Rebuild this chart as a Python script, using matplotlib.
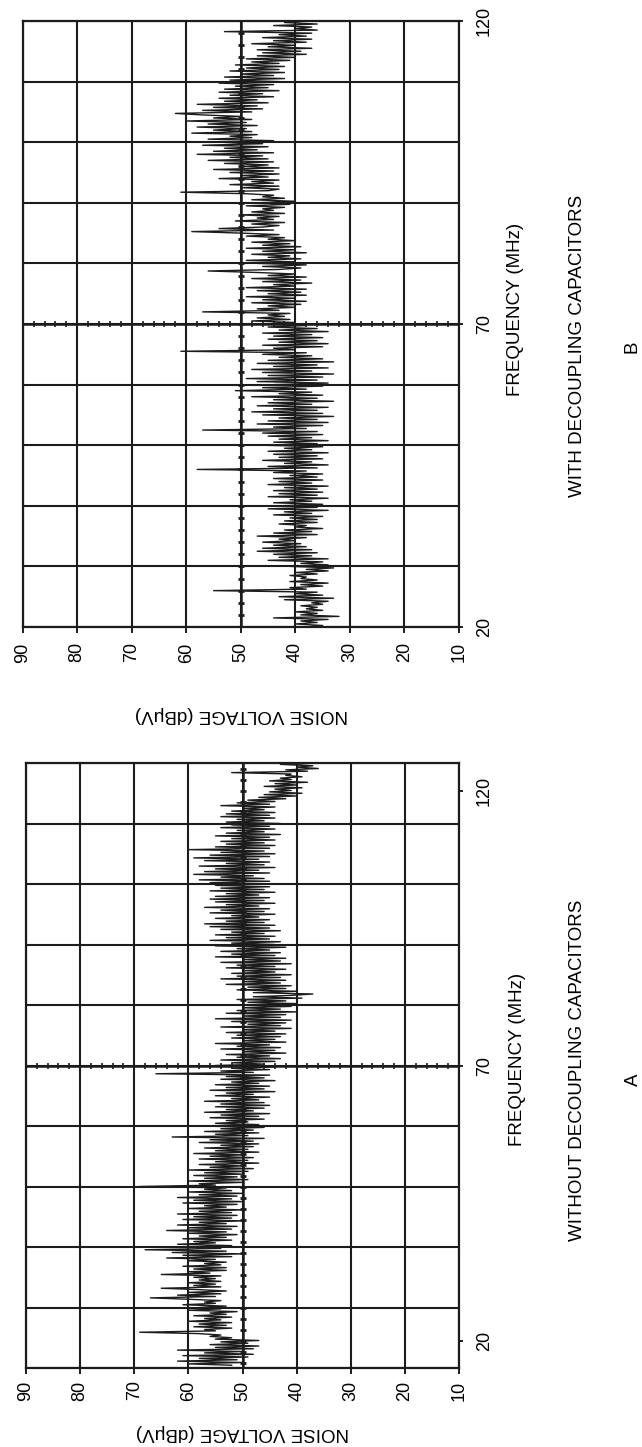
import numpy as np
import matplotlib
matplotlib.use("Agg")
import matplotlib.pyplot as plt

plt.rcParams['font.family'] = ['Liberation Sans', 'DejaVu Sans']

# noise voltage (dBuV) read every 0.25 MHz
freq_step = 0.25

# panel B: with decoupling capacitors, from 20 MHz
freq_b_start = 20.0
volt_b = [
    38, 35, 40, 36, 39, 34, 44, 32, 39, 36,
    40, 35, 38, 36, 39, 35, 37, 34, 42, 33,
    43, 35, 40, 36, 55, 38, 41, 35, 39, 34,
    41, 36, 39, 38, 41, 36, 40, 34, 38, 33,
    41, 34, 39, 35, 45, 34, 43, 37, 44, 36,
    47, 37, 46, 38, 44, 39, 46, 40, 43, 38,
    47, 36, 44, 37, 42, 35, 40, 38, 43, 36,
    42, 36, 41, 35, 44, 37, 42, 34, 45, 36,
    43, 35, 44, 37, 41, 34, 45, 36, 43, 35,
    44, 36, 42, 34, 45, 37, 43, 35, 44, 36,
    41, 35, 44, 38, 58, 36, 45, 34, 42, 37,
    46, 35, 43, 36, 44, 34, 45, 37, 42, 35,
    46, 36, 44, 34, 43, 37, 45, 35, 46, 36,
    57, 38, 44, 35, 47, 34, 45, 36, 43, 33,
    46, 35, 48, 36, 44, 34, 47, 37, 45, 33,
    44, 36, 48, 35, 43, 37, 51, 38, 46, 35,
    44, 34, 47, 36, 49, 35, 45, 33, 46, 37,
    48, 34, 44, 36, 47, 33, 45, 35, 43, 37,
    46, 38, 61, 40, 44, 35, 46, 34, 43, 36,
    45, 35, 44, 37, 46, 34, 43, 36, 45, 38,
    46, 40, 48, 41, 47, 42, 45, 41, 57, 43,
    47, 40, 45, 39, 48, 38, 46, 40, 49, 38,
    45, 39, 47, 38, 49, 40, 44, 37, 46, 39,
    48, 38, 45, 40, 47, 56, 43, 39, 46, 38,
    47, 40, 49, 39, 45, 41, 48, 38, 46, 40,
    49, 39, 46, 41, 48, 40, 45, 42, 49, 43,
    50, 59, 44, 54, 46, 43, 48, 42, 51, 44,
    47, 43, 50, 42, 48, 44, 46, 42, 49, 41,
    47, 40, 48, 42, 46, 44, 49, 61, 45, 43,
    50, 43, 52, 44, 48, 43, 54, 45, 50, 43,
    52, 44, 55, 43, 50, 45, 53, 44, 56, 45,
    52, 46, 58, 44, 55, 47, 53, 45, 57, 46,
    54, 44, 56, 48, 52, 47, 59, 48, 55, 49,
    58, 47, 56, 49, 60, 48, 55, 50, 57, 62,
    48, 57, 46, 55, 47, 58, 45, 53, 47, 54,
    44, 52, 46, 54, 43, 53, 45, 51, 44, 54,
    43, 52, 42, 53, 44, 50, 42, 52, 43, 49,
    42, 51, 43, 48, 41, 49, 40, 47, 38, 46,
    39, 47, 37, 45, 40, 48, 38, 44, 37, 46,
    38, 43, 37, 53, 36, 40, 37, 44, 36, 42,
    38,
]

# panel A: without decoupling capacitors, from 15.5 MHz
freq_a_start = 15.5
volt_a = [
    52, 60, 50, 62, 51, 58, 49, 61, 48, 57,
    50, 62, 48, 55, 47, 56, 49, 54, 47, 55,
    52, 56, 54, 58, 69, 55, 57, 52, 59, 53,
    58, 52, 60, 54, 57, 52, 59, 53, 56, 51,
    60, 54, 58, 53, 61, 55, 57, 54, 60, 67,
    55, 62, 54, 60, 53, 58, 65, 54, 59, 55,
    60, 54, 58, 55, 59, 54, 65, 56, 60, 53,
    59, 53, 61, 54, 57, 53, 60, 55, 64, 52,
    61, 50, 63, 53, 68, 54, 60, 52, 62, 55,
    59, 52, 61, 53, 58, 51, 60, 53, 64, 52,
    60, 51, 62, 53, 58, 50, 61, 52, 59, 51,
    62, 52, 58, 50, 60, 53, 57, 51, 61, 50,
    59, 52, 62, 51, 58, 50, 60, 52, 57, 53,
    69, 55, 58, 50, 60, 49, 57, 51, 59, 50,
    57, 49, 60, 48, 56, 50, 58, 47, 55, 49,
    58, 48, 56, 50, 59, 47, 55, 49, 57, 48,
    54, 47, 58, 48, 56, 46, 63, 49, 55, 47,
    57, 48, 54, 46, 58, 47, 55, 49, 53, 46,
    56, 47, 54, 45, 57, 48, 53, 46, 55, 45,
    54, 46, 57, 47, 52, 45, 55, 48, 53, 44,
    56, 46, 53, 45, 55, 47, 52, 44, 54, 46,
    53, 45, 66, 48, 54, 45, 52, 44, 55, 46,
    52, 44, 54, 43, 51, 45, 53, 42, 50, 44,
    54, 43, 51, 45, 55, 42, 50, 44, 52, 43,
    51, 42, 53, 44, 50, 41, 54, 43, 49, 42,
    52, 41, 55, 43, 50, 42, 53, 40, 51, 43,
    50, 41, 52, 40, 49, 42, 51, 39, 48, 41,
    37, 48, 40, 51, 42, 49, 41, 53, 43, 50,
    42, 54, 43, 51, 41, 52, 44, 50, 42, 53,
    44, 51, 41, 54, 43, 50, 42, 55, 44, 52,
    43, 54, 45, 51, 42, 55, 44, 52, 43, 56,
    45, 53, 44, 55, 46, 52, 43, 54, 45, 56,
    44, 57, 46, 53, 45, 55, 47, 52, 44, 56,
    46, 54, 45, 57, 47, 53, 44, 55, 46, 56,
    45, 55, 47, 53, 44, 56, 46, 54, 45, 55,
    47, 56, 45, 58, 46, 54, 48, 59, 45, 57,
    47, 55, 44, 58, 46, 53, 45, 57, 47, 59,
    45, 56, 44, 54, 46, 60, 45, 55, 44, 53,
    46, 54, 44, 52, 45, 55, 43, 53, 46, 51,
    44, 54, 45, 52, 43, 53, 46, 51, 44, 54,
    45, 53, 44, 52, 46, 50, 44, 54, 45, 51,
    44, 49, 42, 47, 40, 46, 39, 45, 41, 44,
    39, 46, 40, 44, 38, 45, 41, 43, 39, 42,
    41, 52, 38, 42, 36, 40, 37, 43, 36, 41,
    38,
]

volt_ticks = [90, 80, 70, 60, 50, 40, 30, 20, 10]
freq_labels = [20, 70, 120]

ink = '#1c1c1c'
fs = 13


def draw_panel(ax, freqs, volts, flim, fgrid, pad_x):
    ax.set_xlim(90, 10)
    ax.set_ylim(*flim)
    # grid
    for v in volt_ticks:
        ax.axvline(v, color=ink, lw=1.5, zorder=1)
    for f in fgrid:
        ax.axhline(f, color=ink, lw=1.5, zorder=1)
    # crossing axes with their small ticks
    ax.axhline(70, color=ink, lw=1.8, zorder=2)
    ax.plot(np.arange(88, 10, -2), np.full(39, 70), ls='none', marker='|',
            ms=5, mew=1.2, color=ink, zorder=2)
    ax.axvline(50, color=ink, lw=1.8, zorder=2)
    fticks = np.arange(np.ceil(flim[0] / 2) * 2, flim[1], 2)
    ax.plot(np.full(len(fticks), 50), fticks, ls='none', marker='_',
            ms=5, mew=2.0, color=ink, zorder=2)
    # trace
    ax.plot(volts, freqs, color=ink, lw=1.0, zorder=3)

    for s in ax.spines.values():
        s.set_linewidth(1.6)
        s.set_color(ink)
    ax.set_xticks(volt_ticks)
    ax.set_xticklabels([str(v) for v in volt_ticks], rotation=90, fontsize=fs)
    ax.tick_params(axis='x', direction='out', length=4, width=1.4, pad=pad_x,
                   color=ink)
    ax.yaxis.tick_right()
    ax.set_yticks(freq_labels)
    ax.set_yticklabels([str(f) for f in freq_labels], rotation=90, fontsize=fs,
                       va='center')
    ax.tick_params(axis='y', direction='out', length=3, width=1.4, pad=9,
                   color=ink)


fig = plt.figure(figsize=(6.42, 14.47), dpi=100)

freq_b = freq_b_start + freq_step * np.arange(len(volt_b))
freq_a = freq_a_start + freq_step * np.arange(len(volt_a))

# panel B (top of the page)
axB = fig.add_axes([22.7 / 642, 1 - 627 / 1447, 436.3 / 642, 606 / 1447])
draw_panel(axB, freq_b, volt_b, (20, 120), range(20, 121, 10), 7)

# panel A (bottom of the page)
limA = (15, 125)
axA = fig.add_axes([26 / 642, 1 - 1368 / 1447, 433 / 642, 605 / 1447])
draw_panel(axA, freq_a, volt_a, limA, np.linspace(limA[0], limA[1], 11), 5)

# page texts (rotated)
tfs = 13.5
fig.text(241 / 642, 1 - 715 / 1447, 'NOISE VOLTAGE (dBμV)', rotation=180,
         ha='center', va='center', fontsize=tfs)
fig.text(516 / 642, 1 - 309 / 1447, 'FREQUENCY (MHz)', rotation=90,
         ha='center', va='center', fontsize=tfs)
fig.text(577 / 642, 1 - 346 / 1447, 'WITH DECOUPLING CAPACITORS', rotation=90,
         ha='center', va='center', fontsize=tfs)
fig.text(632 / 642, 1 - 347 / 1447, 'B', rotation=90,
         ha='center', va='center', fontsize=tfs)

fig.text(242 / 642, 1 - 1433 / 1447, 'NOISE VOLTAGE (dBμV)', rotation=180,
         ha='center', va='center', fontsize=tfs)
fig.text(518 / 642, 1 - 1059 / 1447, 'FREQUENCY (MHz)', rotation=90,
         ha='center', va='center', fontsize=tfs)
fig.text(577 / 642, 1 - 1070 / 1447, 'WITHOUT DECOUPLING CAPACITORS', rotation=90,
         ha='center', va='center', fontsize=tfs)
fig.text(633 / 642, 1 - 1080 / 1447, 'A', rotation=90,
         ha='center', va='center', fontsize=tfs)

fig.savefig('out.png', dpi=100, facecolor='white')
